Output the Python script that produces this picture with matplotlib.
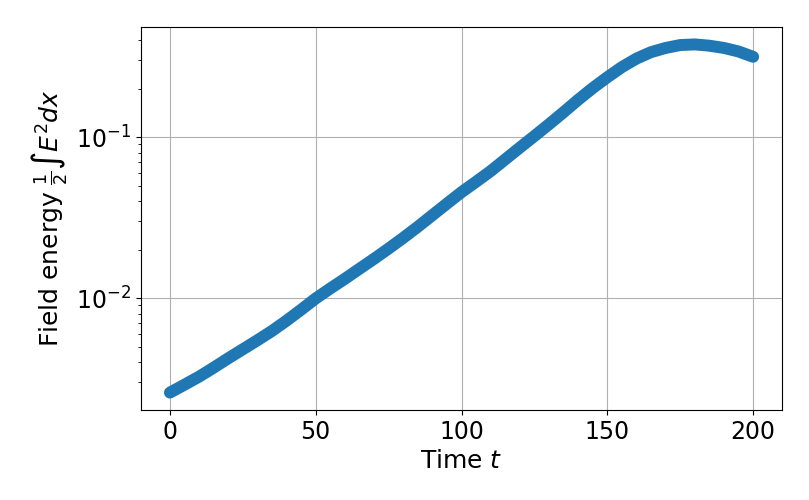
import numpy as np
import matplotlib
matplotlib.use("Agg")
import matplotlib.pyplot as plt

# time samples and field energy
time = [0, 5, 10, 15, 20, 25, 30, 35, 40, 45,
        50, 55, 60, 65, 70, 75, 80, 85, 90, 95,
        100, 105, 110, 115, 120, 125, 130, 135, 140, 145,
        150, 155, 160, 165, 170, 175, 180, 185, 190, 195, 200]
energy = [0.002588, 0.002897, 0.003251, 0.003698, 0.004227, 0.004808, 0.005470, 0.006252, 0.007244, 0.008472,
          0.009954, 0.01148, 0.01318, 0.01521, 0.01754, 0.02032, 0.02366, 0.02773, 0.03273, 0.03864,
          0.04550, 0.05284, 0.06152, 0.07278, 0.08610, 0.1016, 0.1202, 0.1429, 0.1706, 0.2018,
          0.2355, 0.2723, 0.3076, 0.3373, 0.3581, 0.3733, 0.3767, 0.3698, 0.3581, 0.3404, 0.3155]
xticks = [0, 50, 100, 150, 200]

fig = plt.figure(figsize=(8.09, 5), dpi=100)
ax = fig.add_axes([0.174, 0.18, 0.793, 0.766])

# dense scatter in the original -> thick round-capped line gives the same band
ax.plot(time, energy, color='#1f77b4', lw=8.6,
        solid_capstyle='round', solid_joinstyle='round')
ax.set_yscale('log')
ax.set_xticks(xticks)
ax.grid(True)
ax.set_axisbelow(True)

ax.set_xlabel('Time $t$', fontsize=18)
ax.set_ylabel(r'Field energy $\frac{1}{2}\int E^2 dx$', fontsize=18)
ax.tick_params(axis='both', which='major', labelsize=17)

fig.savefig('out.png', dpi=100)
